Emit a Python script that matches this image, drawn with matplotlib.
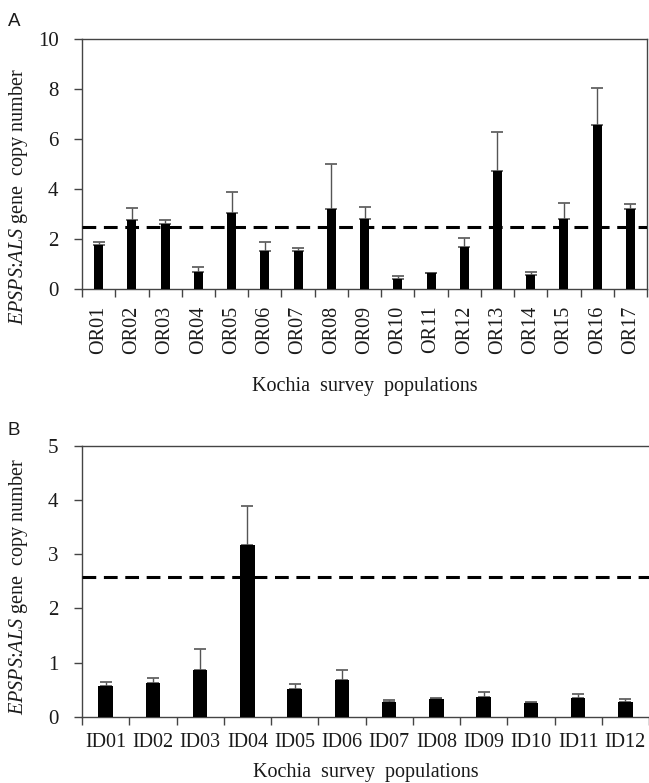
import numpy as np
import matplotlib
matplotlib.use("Agg")
import matplotlib.pyplot as plt

# panel A: Oregon populations
or_names = ["OR01", "OR02", "OR03", "OR04", "OR05", "OR06", "OR07", "OR08", "OR09",
            "OR10", "OR11", "OR12", "OR13", "OR14", "OR15", "OR16", "OR17"]
or_mean = [1.75, 2.76, 2.60, 0.68, 3.03, 1.53, 1.53, 3.20, 2.81,
           0.41, 0.65, 1.69, 4.73, 0.57, 2.81, 6.55, 3.19]
or_err = [0.13, 0.47, 0.15, 0.20, 0.84, 0.36, 0.10, 1.79, 0.47,
          0.10, 0.00, 0.36, 1.54, 0.10, 0.64, 1.49, 0.20]
or_threshold = 2.5

# panel B: Idaho populations
id_names = ["ID01", "ID02", "ID03", "ID04", "ID05", "ID06",
            "ID07", "ID08", "ID09", "ID10", "ID11", "ID12"]
id_mean = [0.57, 0.62, 0.87, 3.17, 0.52, 0.67, 0.28, 0.33, 0.37, 0.26, 0.35, 0.28]
id_err = [0.07, 0.09, 0.38, 0.73, 0.09, 0.20, 0.02, 0.02, 0.08, 0.02, 0.07, 0.04]
id_threshold = 2.58

plt.rcParams['font.family'] = 'Liberation Serif'
plt.rcParams['mathtext.fontset'] = 'custom'
plt.rcParams['mathtext.it'] = 'Liberation Serif:italic'
plt.rcParams['mathtext.rm'] = 'Liberation Serif'

SPINE = '#444444'
TXT = '#1a1a1a'
YLABEL = r"$\mathit{EPSPS}$:$\mathit{ALS}$ gene  copy number"


def draw_panel(ax, names, mean, err, thr, ymax, ystep, width, rot, ylab_y):
    x = np.arange(len(names))
    ax.bar(x, mean, width=width, color='black', zorder=3)
    ax.errorbar(x, mean, yerr=[np.zeros(len(err)), err], fmt='none',
                ecolor='#555555', elinewidth=1.0, capsize=4, capthick=1.2, zorder=2)
    ax.axhline(thr, color='black', lw=2.2, linestyle=(0, (4.5, 2.5)), zorder=4)
    ax.set_xlim(-0.5, len(names) - 0.5)
    ax.set_ylim(0, ymax)
    ax.set_yticks(np.arange(0, ymax + 0.01, ystep))
    # ticks sit on category boundaries, labels in the middle
    ax.set_xticks(np.arange(-0.5, len(names), 1.0))
    ax.set_xticklabels([])
    ax.set_xticks(x, minor=True)
    ax.set_xticklabels(names, minor=True, rotation=rot, fontsize=14.5, color=TXT)
    ax.tick_params(axis='x', which='major', direction='out', length=6, width=1, color=SPINE)
    ax.tick_params(axis='x', which='minor', length=0, pad=12)
    ax.tick_params(axis='y', direction='out', length=6, width=1, color=SPINE,
                   labelsize=15, labelcolor=TXT, pad=11)
    for s in ax.spines.values():
        s.set_color(SPINE)
        s.set_linewidth(1.0)
    ax.set_ylabel(YLABEL, fontsize=14.5, color=TXT)
    ax.yaxis.set_label_coords(-0.092, ylab_y)
    ax.set_xlabel("Kochia  survey  populations", fontsize=14.5, color=TXT)


fig = plt.figure(figsize=(6.49, 7.83), dpi=100)

axA = fig.add_axes([0.1264, 0.6309, 0.8706, 0.3193])
draw_panel(axA, or_names, or_mean, or_err, or_threshold, 10, 2, 0.27, 90, 0.37)
axA.xaxis.set_label_coords(0.5, -0.35)

axB = fig.add_axes([0.1264, 0.0847, 0.8736, 0.3457])
draw_panel(axB, id_names, id_mean, id_err, id_threshold, 5, 1, 0.31, 0, 0.48)
axB.spines['right'].set_visible(False)
axB.xaxis.set_label_coords(0.5, -0.17)

fig.text(0.012, 0.972, "A", fontsize=13.5, family='Liberation Sans', va='center', color=TXT)
fig.text(0.012, 0.450, "B", fontsize=13.5, family='Liberation Sans', va='center', color=TXT)

fig.savefig("out.png", dpi=100)
